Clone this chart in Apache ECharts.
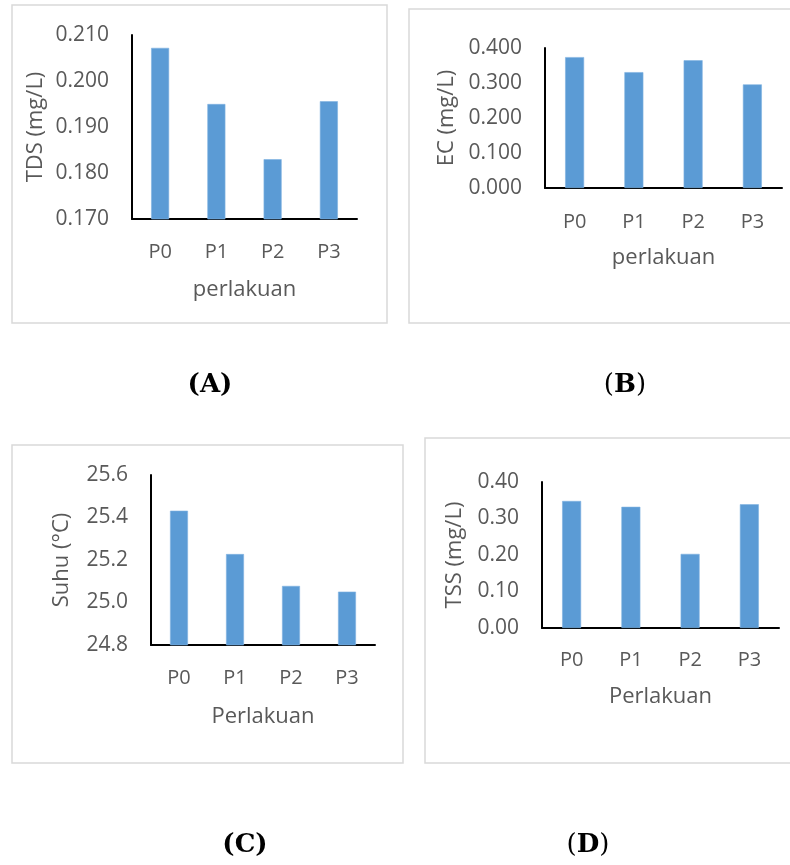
<!DOCTYPE html>
<html>
<head>
<meta charset="utf-8">
<style>
html,body{margin:0;padding:0;background:#fff;}
#c{width:790px;height:865px;}
</style>
<script src="https://cdn.jsdelivr.net/npm/echarts@6/dist/echarts.min.js"></script>
</head>
<body>
<div id="c"></div>
<script>
const categories = ['P0', 'P1', 'P2', 'P3'];
const tdsValues = [0.2072, 0.1950, 0.1830, 0.1956];
const ecValues = [0.374, 0.331, 0.365, 0.296];
const suhuValues = [25.432, 25.228, 25.078, 25.051];
const tssValues = [0.348, 0.332, 0.203, 0.339];
const tdsTicks = { min: 0.170, max: 0.210, interval: 0.010, digits: 3 };
const ecTicks = { min: 0, max: 0.4, interval: 0.1, digits: 3 };
const suhuTicks = { min: 24.8, max: 25.6, interval: 0.2, digits: 1 };
const tssTicks = { min: 0, max: 0.4, interval: 0.1, digits: 2 };

const TXT = '#595959';
const FONT = '"Open Sans", sans-serif';
const BAR = '#5b9bd5';

const grids = [
  { left: 132, top: 35, width: 225, height: 184 },
  { left: 545, top: 48, width: 237, height: 140 },
  { left: 151, top: 475, width: 224, height: 170 },
  { left: 542, top: 482, width: 237, height: 146 }
];
const ticks = [tdsTicks, ecTicks, suhuTicks, tssTicks];
const yNames = ['TDS (mg/L)', 'EC (mg/L)', 'Suhu (°C)', 'TSS (mg/L)'];
const xNames = ['perlakuan', 'perlakuan', 'Perlakuan', 'Perlakuan'];
const yGaps = [96, 98, 89, 87];
const xGaps = [71, 70, 72, 69];
const labMargins = [23, 24, 23, 22];
const series = [tdsValues, ecValues, suhuValues, tssValues];

const axisLine = { show: true, lineStyle: { color: '#000', width: 2 } };
const SERIF = '"DejaVu Serif", serif';

const option = {
  animation: false,
  backgroundColor: '#fff',
  grid: grids.map(g => Object.assign({ containLabel: false }, g)),
  xAxis: grids.map((g, i) => ({
    type: 'category',
    gridIndex: i,
    data: categories,
    axisLine: axisLine,
    axisTick: { show: false },
    axisLabel: { color: TXT, fontFamily: FONT, fontSize: 20, margin: labMargins[i] },
    name: xNames[i],
    nameLocation: 'middle',
    nameGap: xGaps[i],
    nameTextStyle: { color: TXT, fontFamily: FONT, fontSize: 22, verticalAlign: 'middle', align: 'center' }
  })),
  yAxis: grids.map((g, i) => ({
    type: 'value',
    gridIndex: i,
    min: ticks[i].min,
    max: ticks[i].max,
    interval: ticks[i].interval,
    axisLine: axisLine,
    axisTick: { show: false },
    splitLine: { show: false },
    axisLabel: {
      color: TXT, fontFamily: FONT, fontSize: 21, margin: 23,
      formatter: v => Number(v).toFixed(ticks[i].digits)
    },
    name: yNames[i],
    nameLocation: 'middle',
    nameRotate: 90,
    nameGap: yGaps[i],
    nameTextStyle: { color: TXT, fontFamily: FONT, fontSize: 22, verticalAlign: 'middle', align: 'center' }
  })),
  series: series.map((d, i) => ({
    type: 'bar',
    xAxisIndex: i,
    yAxisIndex: i,
    data: d,
    barWidth: '32%',
    itemStyle: { color: BAR, borderColor: '#7fb2e0', borderWidth: 0.6 }
  })),
  graphic: [
    { type: 'rect', z: -1, shape: { x: 12, y: 5, width: 375, height: 318 }, style: { fill: 'none', stroke: '#d9d9d9', lineWidth: 1.5 } },
    { type: 'rect', z: -1, shape: { x: 409, y: 9, width: 400, height: 314 }, style: { fill: 'none', stroke: '#d9d9d9', lineWidth: 1.5 } },
    { type: 'rect', z: -1, shape: { x: 12, y: 445, width: 391, height: 318 }, style: { fill: 'none', stroke: '#d9d9d9', lineWidth: 1.5 } },
    { type: 'rect', z: -1, shape: { x: 425, y: 438, width: 400, height: 325 }, style: { fill: 'none', stroke: '#d9d9d9', lineWidth: 1.5 } },
    { type: 'text', x: 210, y: 385, style: { text: '(A)', fill: '#000', font: 'bold 26px ' + SERIF, textAlign: 'center', textVerticalAlign: 'middle' } },
    { type: 'text', x: 625, y: 385, style: { text: '{p|(}{b|B}{p|)}', fill: '#000', textAlign: 'center', textVerticalAlign: 'middle',
      rich: { p: { fontFamily: SERIF, fontSize: 26, fill: '#000' }, b: { fontFamily: SERIF, fontWeight: 'bold', fontSize: 26, fill: '#000' } } } },
    { type: 'text', x: 245, y: 845, style: { text: '(C)', fill: '#000', font: 'bold 26px ' + SERIF, textAlign: 'center', textVerticalAlign: 'middle' } },
    { type: 'text', x: 588, y: 845, style: { text: '{p|(}{b|D}{p|)}', fill: '#000', textAlign: 'center', textVerticalAlign: 'middle',
      rich: { p: { fontFamily: SERIF, fontSize: 26, fill: '#000' }, b: { fontFamily: SERIF, fontWeight: 'bold', fontSize: 26, fill: '#000' } } } }
  ]
};

const chart = echarts.init(document.getElementById('c'), null, { renderer: 'canvas' });
chart.setOption(option);
</script>
</body>
</html>
